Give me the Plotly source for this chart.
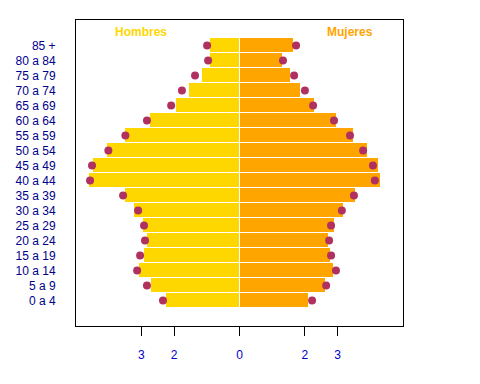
import plotly.graph_objects as go

edades = ["0 a 4", "5 a 9", "10 a 14", "15 a 19", "20 a 24", "25 a 29", "30 a 34",
          "35 a 39", "40 a 44", "45 a 49", "50 a 54", "55 a 59", "60 a 64",
          "65 a 69", "70 a 74", "75 a 79", "80 a 84", "85 +"]

hombres_barras = [2.26, 2.72, 3.08, 2.93, 2.84, 2.96, 3.24, 3.51, 4.61, 4.49,
                  4.06, 3.51, 2.75, 1.95, 1.55, 1.16, 0.91, 0.91]
hombres_puntos = [2.34, 2.83, 3.13, 3.04, 2.89, 2.92, 3.10, 3.56, 4.57, 4.51,
                  4.01, 3.49, 2.83, 2.09, 1.76, 1.36, 0.96, 0.99]
mujeres_barras = [2.12, 2.64, 2.88, 2.79, 2.73, 2.91, 3.19, 3.55, 4.32, 4.26,
                  3.92, 3.49, 2.97, 2.30, 1.87, 1.57, 1.32, 1.66]
mujeres_puntos = [2.22, 2.65, 2.95, 2.80, 2.74, 2.80, 3.13, 3.50, 4.14, 4.08,
                  3.78, 3.38, 2.89, 2.25, 2.00, 1.67, 1.33, 1.73]

tick_vals = [-3, -2, 0, 2, 3]
tick_text = ["3", "2", "0", "2", "3"]

font_family = "Arial, Liberation Sans, sans-serif"
idx = list(range(len(edades)))

fig = go.Figure()
fig.add_trace(go.Bar(y=idx, x=[-v for v in hombres_barras], orientation="h",
                     marker=dict(color="#FFD700", line=dict(color="white", width=1)),
                     name="Hombres", showlegend=False))
fig.add_trace(go.Bar(y=idx, x=mujeres_barras, orientation="h",
                     marker=dict(color="#FFA500", line=dict(color="white", width=1)),
                     name="Mujeres", showlegend=False))
fig.add_trace(go.Scatter(y=idx, x=[-v for v in hombres_puntos], mode="markers",
                         marker=dict(color="#B03060", size=8), showlegend=False))
fig.add_trace(go.Scatter(y=idx, x=mujeres_puntos, mode="markers",
                         marker=dict(color="#B03060", size=8), showlegend=False))

fig.add_annotation(x=-3.0, y=17.9, text="<b>Hombres</b>", showarrow=False,
                   font=dict(color="#FFD700", size=12, family=font_family))
fig.add_annotation(x=3.37, y=17.9, text="<b>Mujeres</b>", showarrow=False,
                   font=dict(color="#FFA500", size=12, family=font_family))

fig.update_layout(
    width=472, height=376,
    margin=dict(l=68, r=77, t=12, b=58, autoexpand=False),
    paper_bgcolor="white", plot_bgcolor="white",
    barmode="overlay", bargap=0,
    font=dict(family=font_family, size=12, color="#00008B"),
    xaxis=dict(range=[-5, 5], tickvals=tick_vals, ticktext=tick_text,
               showgrid=False, zeroline=False, showline=True, linecolor="black",
               linewidth=1, mirror=True, ticks="outside", ticklen=9,
               tickcolor="black", ticklabelstandoff=9, automargin=False,
               tickfont=dict(color="#0000CD", size=12)),
    yaxis=dict(range=[-1.71, 18.71], tickvals=idx, ticktext=edades,
               showgrid=False, zeroline=False, showline=True, linecolor="black",
               linewidth=1, mirror=True, ticks="", ticklabelstandoff=17,
               automargin=False,
               tickfont=dict(color="#00008B", size=12)),
)

fig.write_html("out.html")
